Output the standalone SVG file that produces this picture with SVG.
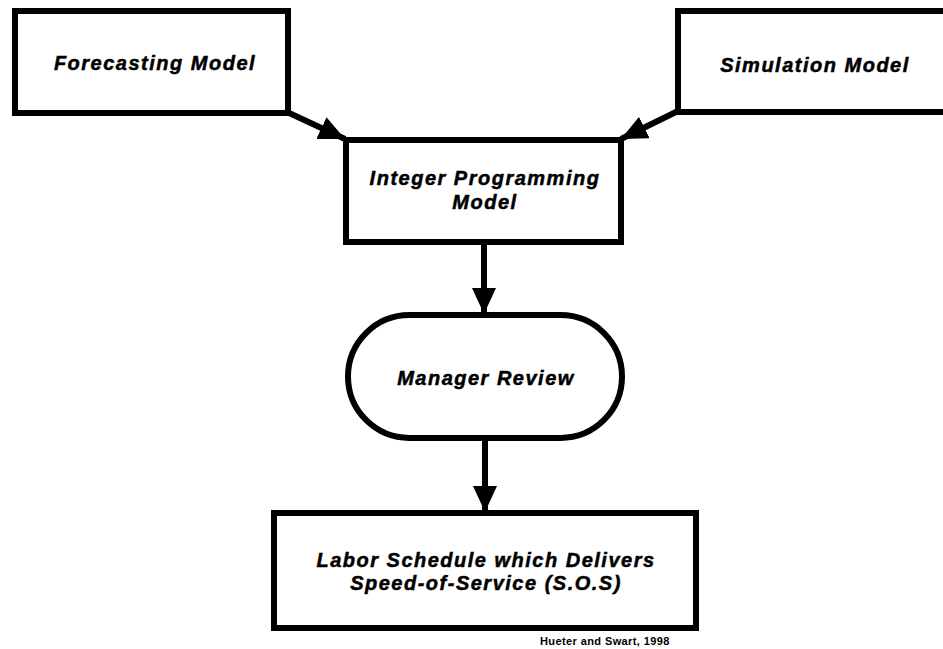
<svg xmlns="http://www.w3.org/2000/svg" width="943" height="649" viewBox="0 0 943 649">
<defs>
<style>
.box{fill:#fff;stroke:#000;stroke-width:6}
.lbl{font-family:"Liberation Sans",Arial,sans-serif;font-weight:bold;font-style:italic;font-size:20px;letter-spacing:1.5px;text-anchor:middle;fill:#000;stroke:#000;stroke-width:0.5}
.cite{font-family:"Liberation Sans",Arial,sans-serif;font-weight:bold;font-size:11px;letter-spacing:0.4px;fill:#000}
.conn{stroke:#000;stroke-width:6;fill:none}
</style>
<marker id="ah" markerUnits="userSpaceOnUse" markerWidth="27" markerHeight="24" refX="26" refY="12" orient="auto">
<path d="M0,0 L26,12 L0,24 Z" fill="#000"/>
</marker>
</defs>
<rect width="943" height="649" fill="#fff"/>
<g id="connectors">
<line class="conn" x1="287" y1="112" x2="345" y2="139" marker-end="url(#ah)"/>
<line class="conn" x1="678" y1="111" x2="621" y2="139" marker-end="url(#ah)"/>
<line class="conn" x1="484" y1="242" x2="484" y2="314" marker-end="url(#ah)"/>
<line class="conn" x1="485" y1="438" x2="485" y2="512" marker-end="url(#ah)"/>
</g>
<g id="forecasting">
<rect class="box" x="15" y="11" width="273" height="102"/>
<text class="lbl" x="155" y="70">Forecasting Model</text>
</g>
<g id="simulation">
<rect class="box" x="678" y="11" width="280" height="101"/>
<text class="lbl" x="815" y="72">Simulation Model</text>
</g>
<g id="integer">
<rect class="box" x="346" y="140" width="275" height="102"/>
<text class="lbl" x="485" y="185">Integer Programming</text>
<text class="lbl" x="485" y="209">Model</text>
</g>
<g id="manager">
<rect class="box" x="348" y="315" width="274" height="123" rx="61.5" ry="61.5"/>
<text class="lbl" x="486" y="385">Manager Review</text>
</g>
<g id="labor">
<rect class="box" x="274" y="513" width="422" height="115"/>
<text class="lbl" x="486" y="567">Labor Schedule which Delivers</text>
<text class="lbl" x="486" y="590">Speed-of-Service (S.O.S)</text>
</g>
<g id="citation">
<text class="cite" x="540" y="645">Hueter and Swart, 1998</text>
</g>
</svg>
